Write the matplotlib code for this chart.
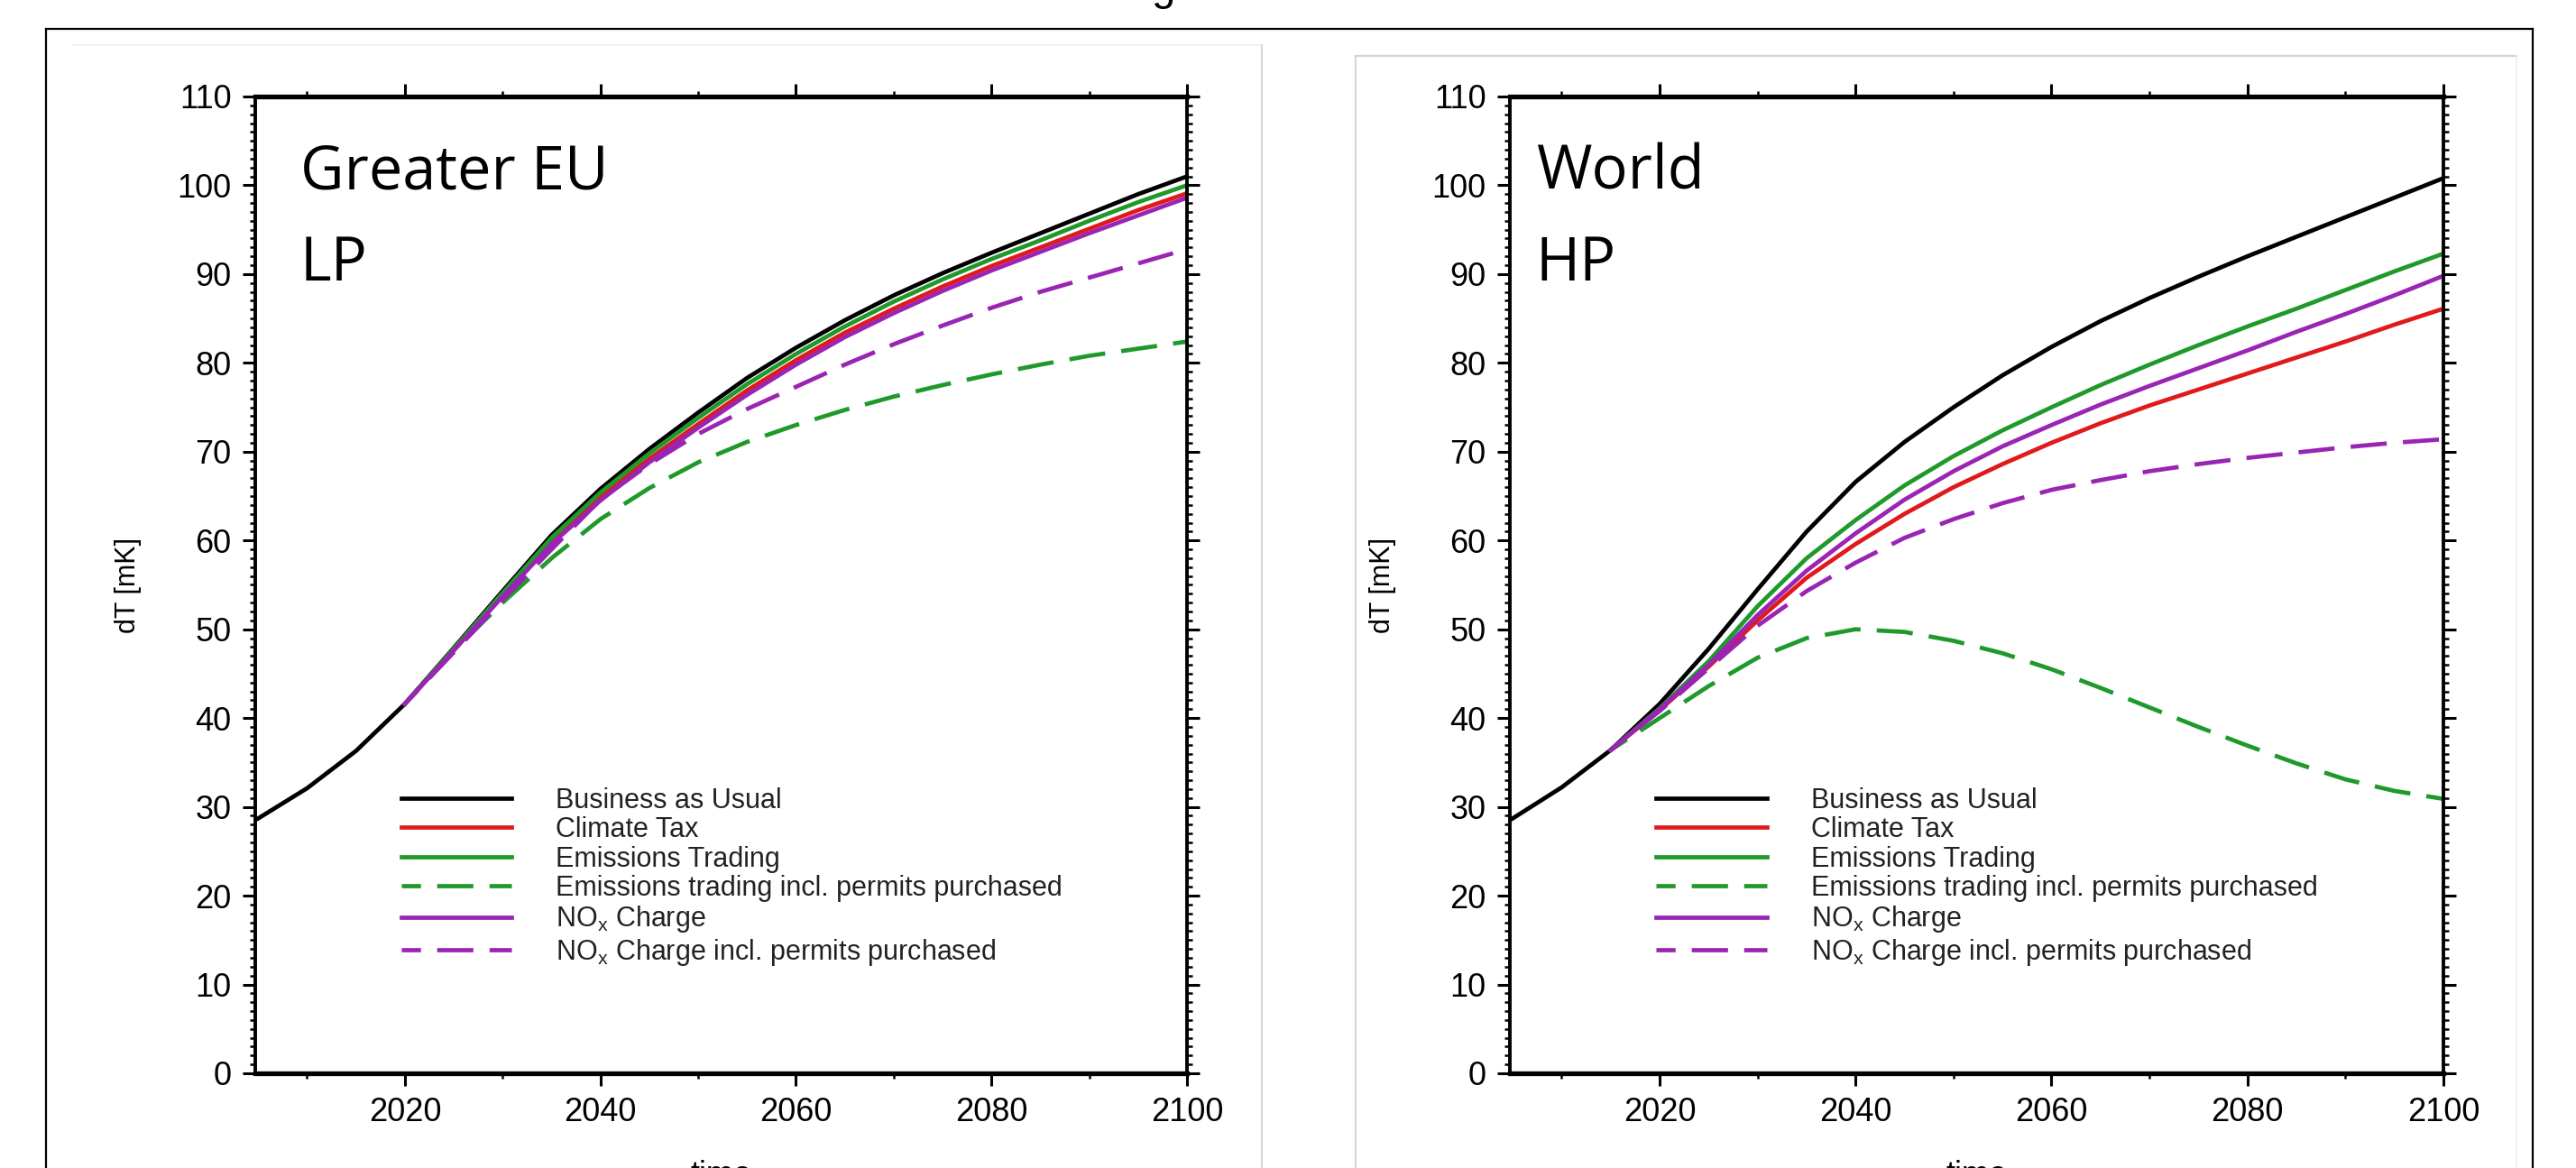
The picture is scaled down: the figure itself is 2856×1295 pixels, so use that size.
"""Two-panel dT scenario chart (Greater EU LP / World HP)."""

import numpy as np
import matplotlib

matplotlib.use('Agg')  # noqa: E402
import matplotlib.pyplot as plt  # noqa: E402
from matplotlib.lines import Line2D  # noqa: E402
from matplotlib.ticker import MultipleLocator  # noqa: E402

plt.rcParams['font.family'] = ['Liberation Sans', 'DejaVu Sans']
plt.rcParams['mathtext.fontset'] = 'custom'
plt.rcParams['mathtext.rm'] = 'Liberation Sans'

NA = np.nan

# --- data -------------------------------------------------------------
YEARS = list(range(2005, 2101, 5))
X_TICKS = [2020, 2040, 2060, 2080, 2100]

LABELS = [
    'Business as Usual',
    'Climate Tax',
    'Emissions Trading',
    'Emissions trading incl. permits purchased',
    r'NO$_\mathregular{x}$ Charge',
    r'NO$_\mathregular{x}$ Charge incl. permits purchased',
]

# Greater EU, LP
eu_bau = [28.7, 32.1, 36.3, 41.6, 47.9, 54.3, 60.6, 65.8, 70.3, 74.4,
          78.3, 81.7, 84.8, 87.6, 90.1, 92.4, 94.6, 96.8, 99.0, 101.0]
eu_tax = [NA, NA, NA, 41.6, 47.7, 53.9, 59.9, 64.9, 69.2, 73.1,
          76.9, 80.3, 83.4, 86.1, 88.6, 90.9, 93.0, 95.1, 97.2, 99.1]
eu_trade = [NA, NA, NA, 41.6, 47.8, 54.1, 60.3, 65.4, 69.8, 73.8,
            77.6, 81.0, 84.1, 86.9, 89.4, 91.7, 93.8, 96.0, 98.1, 100.0]
eu_trade_perm = [NA, NA, NA, 41.6, 47.6, 53.0, 58.0, 62.4, 65.9, 68.8,
                 71.1, 73.0, 74.7, 76.2, 77.5, 78.7, 79.8, 80.8, 81.6, 82.4]
eu_nox = [NA, NA, NA, 41.6, 47.6, 53.7, 59.6, 64.5, 68.8, 72.7,
          76.4, 79.8, 82.9, 85.6, 88.1, 90.4, 92.5, 94.6, 96.6, 98.6]
eu_nox_perm = [NA, NA, NA, 41.6, 47.4, 53.3, 59.0, 64.6, 68.6, 72.0,
               74.8, 77.3, 79.8, 82.1, 84.2, 86.2, 88.0, 89.6, 91.2, 92.8]

# World, HP
w_bau = [28.7, 32.2, 36.4, 41.6, 47.8, 54.5, 61.0, 66.6, 71.1, 75.0,
         78.6, 81.8, 84.7, 87.3, 89.7, 92.0, 94.2, 96.4, 98.6, 100.8]
w_tax = [NA, NA, 36.4, 40.9, 45.8, 51.0, 55.8, 59.6, 63.0, 66.0,
         68.6, 71.0, 73.2, 75.2, 77.0, 78.8, 80.6, 82.4, 84.3, 86.1]
w_trade = [NA, NA, 36.4, 41.1, 46.4, 52.6, 58.0, 62.3, 66.2, 69.5,
           72.4, 75.0, 77.5, 79.8, 82.0, 84.1, 86.1, 88.2, 90.3, 92.3]
w_trade_perm = [NA, NA, 36.4, 40.0, 43.6, 46.8, 49.0, 50.0, 49.7, 48.7,
                47.3, 45.5, 43.4, 41.2, 39.0, 36.9, 34.9, 33.1, 31.8, 30.9]
w_nox = [NA, NA, 36.4, 41.0, 46.0, 51.6, 56.6, 60.8, 64.6, 67.8,
         70.6, 73.0, 75.3, 77.4, 79.4, 81.4, 83.5, 85.5, 87.6, 89.8]
w_nox_perm = [NA, NA, 36.4, 40.8, 45.6, 50.4, 54.3, 57.5, 60.3, 62.4,
              64.2, 65.7, 66.8, 67.8, 68.6, 69.3, 69.9, 70.5, 71.0, 71.4]

# --- styles -----------------------------------------------------------
COR_BLACK = '#000000'
COR_RED = '#e01a1c'
COR_GREEN = '#1f9a2a'
COR_PURPLE = '#9a24b4'
DASH = (4.0, (8.5, 3.8))

STYLES = [
    (COR_BLACK, '-'),
    (COR_RED, '-'),
    (COR_GREEN, '-'),
    (COR_GREEN, DASH),
    (COR_PURPLE, '-'),
    (COR_PURPLE, DASH),
]


def desenha_painel(ax, series, nome, caso, dx_nome):
    for valores, label, (cor, ls) in zip(series, LABELS, STYLES):
        ax.plot(YEARS, valores, color=cor, linestyle=ls, lw=3.4, label=label)

    ax.set_xlim(2004.7, 2100)
    ax.set_ylim(0, 110)
    ax.set_xticks(X_TICKS)
    ax.xaxis.set_minor_locator(MultipleLocator(10))
    ax.yaxis.set_major_locator(MultipleLocator(10))
    ax.yaxis.set_minor_locator(MultipleLocator(1))

    ax.tick_params(which='both', direction='out', top=True, right=True,
                   labelsize=26, width=2.2, color='black')
    ax.tick_params(which='major', length=10, pad=9)
    ax.tick_params(which='minor', length=4, width=1.8)

    for lado in ('left', 'right'):
        ax.spines[lado].set_linewidth(2.8)
    for lado in ('top', 'bottom'):
        ax.spines[lado].set_linewidth(3.8)

    ax.set_ylabel('dT [mK]', fontsize=22)
    ax.yaxis.set_label_coords(-0.122, 0.5)
    ax.set_xlabel('time', fontsize=26, labelpad=25)

    ax.text(dx_nome, 0.905, nome, transform=ax.transAxes, fontsize=48,
            family='Open Sans', va='baseline')
    ax.text(dx_nome, 0.812, caso, transform=ax.transAxes, fontsize=48,
            family='Open Sans', va='baseline')

    leg = ax.legend(loc='upper left', bbox_to_anchor=(0.157, 0.293),
                    frameon=False, fontsize=22, handlelength=4.0,
                    handletextpad=1.6, labelspacing=0.08, borderpad=0,
                    borderaxespad=0)
    for t in leg.get_texts():
        t.set_color('#222222')


fig = plt.figure(figsize=(28.56, 12.95), dpi=100)
ax_l = fig.add_axes([0.0991, 0.0811, 0.3617, 0.8363])
ax_r = fig.add_axes([0.5861, 0.0811, 0.3624, 0.8363])

desenha_painel(ax_l, [eu_bau, eu_tax, eu_trade, eu_trade_perm, eu_nox,
                      eu_nox_perm], 'Greater EU', 'LP', 0.048)
desenha_painel(ax_r, [w_bau, w_tax, w_trade, w_trade_perm, w_nox,
                      w_nox_perm], 'World', 'HP', 0.028)

# moldura externa e bordas das imagens
W, H = 2856.0, 1295.0
for xs, ys, cor, lw in [
    ([51, 2808], [32, 32], 'black', 1.6),
    ([51, 51], [32, 1295], 'black', 1.6),
    ([2808, 2808], [32, 1295], 'black', 1.6),
    ([80, 1399], [50, 50], '#eeeeee', 1.2),
    ([1399, 1399], [50, 1295], '#d4d4d4', 1.4),
    ([1503, 2790], [62, 62], '#d4d4d4', 1.6),
    ([1503, 1503], [62, 1295], '#d4d4d4', 1.4),
    ([2790, 2790], [62, 1295], '#eeeeee', 1.2),
]:
    fig.add_artist(Line2D([x / W for x in xs], [1 - y / H for y in ys],
                          transform=fig.transFigure, color=cor, lw=lw))

# resto do titulo cortado no topo
fig.text(1290 / W, 1.0, 'g', fontsize=34, ha='center', va='baseline')

fig.savefig('out.png', dpi=100)
